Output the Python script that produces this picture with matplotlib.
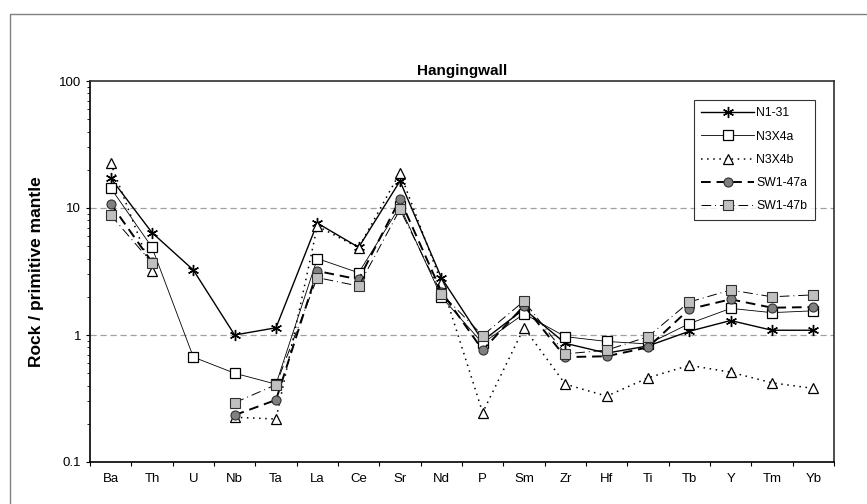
import numpy as np
import matplotlib
matplotlib.use("Agg")
import matplotlib.pyplot as plt
from matplotlib.patches import Rectangle

plt.rcParams['font.family'] = ['Liberation Sans', 'DejaVu Sans']

# --- DONNEES ---
elements = ["Ba", "Th", "U", "Nb", "Ta", "La", "Ce", "Sr", "Nd", "P",
            "Sm", "Zr", "Hf", "Ti", "Tb", "Y", "Tm", "Yb"]
nan = np.nan
n1_31 = [17.2, 6.4, 3.25, 1.0, 1.14, 7.6, 4.9, 16.3, 2.83, 0.9,
         1.6, 0.86, 0.72, 0.82, 1.07, 1.30, 1.09, 1.09]
n3x4a = [14.4, 4.9, 0.67, 0.50, 0.41, 4.0, 3.09, 10.3, 2.0, 0.86,
         1.47, 0.97, 0.89, 0.85, 1.23, 1.62, 1.50, 1.55]
n3x4b = [22.6, 3.19, nan, 0.225, 0.218, 7.2, 4.87, 19.0, 2.58, 0.245,
         1.14, 0.41, 0.33, 0.46, 0.577, 0.51, 0.42, 0.38]
sw1_47a = [10.8, 3.75, nan, 0.234, 0.308, 3.19, 2.74, 11.7, 2.2, 0.76,
           1.7, 0.67, 0.68, 0.80, 1.60, 1.91, 1.64, 1.66]
sw1_47b = [8.8, 3.69, nan, 0.293, 0.406, 2.83, 2.43, 9.75, 2.12, 0.99,
           1.85, 0.71, 0.76, 0.97, 1.82, 2.26, 2.0, 2.07]

x = np.arange(len(elements))

fig = plt.figure(figsize=(8.67, 5.04), dpi=100)
# cadre de la zone graphique (coupé à droite et en bas)
fig.add_artist(Rectangle((10 / 867, -0.1), 1.1, 1 - 14 / 504 + 0.1,
                         transform=fig.transFigure, fill=False,
                         edgecolor='#808080', linewidth=1.0))
ax = fig.add_axes([90 / 867, 1 - 462 / 504, 744 / 867, 381 / 504])

ax.axhline(1, color='#a0a0a0', linestyle=(0, (5, 3)), linewidth=0.9, zorder=0)
ax.axhline(10, color='#a0a0a0', linestyle=(0, (5, 3)), linewidth=0.9, zorder=0)

ax.plot(x, n1_31, color='black', linewidth=1.0, marker=(6, 2, 0),
        markersize=8, markeredgewidth=1.0, label="N1-31")
ax.plot(x, n3x4a, color='black', linewidth=0.6, marker='s', markersize=6.5,
        markerfacecolor='white', markeredgecolor='black', markeredgewidth=0.9,
        label="N3X4a")
ax.plot(x, n3x4b, color='black', linewidth=1.1, linestyle=(0, (1, 3)),
        marker='^', markersize=7.5, markerfacecolor='white',
        markeredgecolor='black', markeredgewidth=0.9, label="N3X4b")
ax.plot(x, sw1_47a, color='black', linewidth=1.4, linestyle=(0, (5, 3)),
        marker='o', markersize=6.5, markerfacecolor='#808080',
        markeredgecolor='#303030', markeredgewidth=0.8, label="SW1-47a")
ax.plot(x, sw1_47b, color='black', linewidth=0.7, linestyle=(0, (10, 4, 1, 4)),
        marker='s', markersize=6.5, markerfacecolor='#c0c0c0',
        markeredgecolor='#303030', markeredgewidth=0.8, label="SW1-47b")

ax.set_yscale('log')
ax.set_ylim(0.1, 100)
ax.set_xlim(-0.5, len(elements) - 0.5)
ax.set_yticks([0.1, 1, 10, 100])
ax.set_yticklabels(["0.1", "1", "10", "100"])
ax.tick_params(axis='y', which='major', direction='out', length=3, width=0.8,
               labelsize=9.5, pad=3.5)
ax.tick_params(axis='y', which='minor', direction='out', length=2, width=0.6)

ax.set_xticks(np.arange(len(elements) + 1) - 0.5)
ax.set_xticklabels([])
ax.set_xticks(x, minor=True)
ax.set_xticklabels(elements, minor=True)
ax.tick_params(axis='x', which='major', direction='out', length=3, width=0.8)
ax.tick_params(axis='x', which='minor', length=0, labelsize=9.5, pad=8)

for s in ax.spines.values():
    s.set_linewidth(1.2)
    s.set_color('black')
ax.spines['top'].set_color('#303030')
ax.spines['right'].set_color('#303030')

ax.set_title("Hangingwall", fontsize=11, fontweight='bold', pad=4)
ax.set_ylabel("Rock / primitive mantle", fontsize=12.5, fontweight='bold')
ax.yaxis.set_label_coords(-0.062, 0.5)

leg = ax.legend(loc='upper right', bbox_to_anchor=(0.974, 0.95), fontsize=8.8,
                frameon=True, fancybox=False, handlelength=4.3,
                labelspacing=0.92, borderpad=0.6, handletextpad=0.2,
                borderaxespad=0)
leg.get_frame().set_edgecolor('black')
leg.get_frame().set_linewidth(0.8)

fig.savefig("out.png", dpi=100)
